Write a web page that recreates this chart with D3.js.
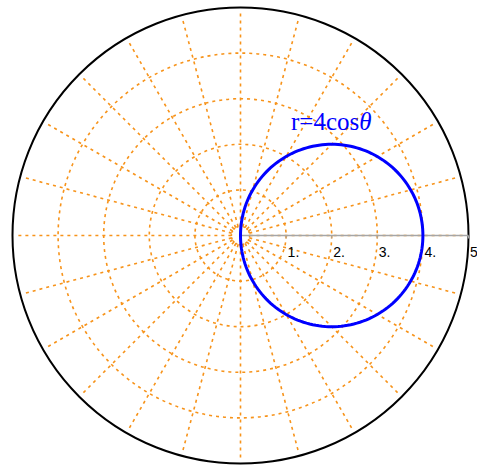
<!DOCTYPE html>
<html>
<head>
<meta charset="utf-8">
<script src="https://cdn.jsdelivr.net/npm/d3@7"></script>
<style>
  html, body { margin: 0; padding: 0; background: #fff; }
  svg { display: block; }
</style>
</head>
<body>
<div id="chart"></div>
<script>
// grid and axis values
const gridRadii = [1, 2, 3, 4];
const innerRing = [0.2];
const spokeDegrees = [0, 15, 30, 45, 60, 75, 90, 105, 120, 135, 150, 165,
  180, 195, 210, 225, 240, 255, 270, 285, 300, 315, 330, 345];
const axisTicks = [1, 2, 3, 4, 5];
const tickLabels = ['1.', '2.', '3.', '4.', '5'];
const curveCoef = 4; // r = 4 cos(theta)
const curveLabel = 'r=4cos';

const width = 477;
const height = 466;
const cx = 240.5;
const cy = 235.5;

const toRadians = degrees => (degrees * Math.PI) / 180;

const svg = d3.select('#chart').append('svg')
    .attr('width', width)
    .attr('height', height);

const r = d3.scaleLinear().domain([0, 5]).range([0, 228]);

const g = svg.append('g').attr('transform', `translate(${cx}, ${cy})`);

const gridStyle = sel => sel
    .attr('fill', 'none')
    .attr('stroke', '#f7931a')
    .attr('stroke-width', 1.6)
    .attr('stroke-dasharray', '3,4');

// dashed circles
g.selectAll('circle.grid')
    .data(gridRadii)
    .join('circle')
    .attr('class', 'grid')
    .attr('r', d => r(d))
    .call(gridStyle);

g.selectAll('circle.inner')
    .data(innerRing)
    .join('circle')
    .attr('class', 'inner')
    .attr('r', d => r(d))
    .call(gridStyle)
    .attr('stroke-dasharray', '2,1.5');

// spokes
g.selectAll('line.spoke')
    .data(spokeDegrees)
    .join('line')
    .attr('class', 'spoke')
    .attr('x1', d => r(0.2) * Math.cos(toRadians(d)))
    .attr('y1', d => -r(0.2) * Math.sin(toRadians(d)))
    .attr('x2', d => r(4.93) * Math.cos(toRadians(d)))
    .attr('y2', d => -r(4.93) * Math.sin(toRadians(d)))
    .call(gridStyle);

// outer boundary
g.append('circle')
    .attr('r', r(5))
    .attr('fill', 'none')
    .attr('stroke', '#000')
    .attr('stroke-width', 2);

// radial axis
g.append('line')
    .attr('x1', 0).attr('y1', 0)
    .attr('x2', r(5)).attr('y2', 0)
    .attr('stroke', '#a6a6a6')
    .attr('stroke-width', 1.5);

g.selectAll('line.tick')
    .data(axisTicks)
    .join('line')
    .attr('class', 'tick')
    .attr('x1', d => r(d)).attr('x2', d => r(d))
    .attr('y1', 0).attr('y2', 3)
    .attr('stroke', '#a6a6a6')
    .attr('stroke-width', 1);

g.selectAll('text.tick')
    .data(axisTicks)
    .join('text')
    .attr('class', 'tick')
    .attr('x', d => r(d) + 1.5)
    .attr('y', 21)
    .attr('font-family', 'Liberation Sans, Arial, sans-serif')
    .attr('font-size', 14)
    .attr('fill', '#000')
    .text((d, i) => tickLabels[i]);

// the curve
const thetas = d3.range(-90, 90.5, 1).map(toRadians);
const curve = d3.lineRadial()
    .angle(t => Math.PI / 2 - t)
    .radius(t => r(curveCoef * Math.cos(t)));

g.append('path')
    .attr('d', curve(thetas) + 'Z')
    .attr('fill', 'none')
    .attr('stroke', '#0000ff')
    .attr('stroke-width', 3);

const label = svg.append('text')
    .attr('x', 291)
    .attr('y', 130)
    .attr('font-family', 'Liberation Serif, Times New Roman, serif')
    .attr('font-size', 25)
    .attr('fill', '#0000ff');
label.append('tspan').text(curveLabel);
label.append('tspan').attr('font-style', 'italic').text('θ');
</script>
</body>
</html>
